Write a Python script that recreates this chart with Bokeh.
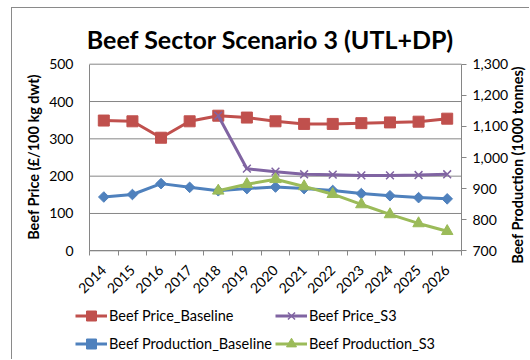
from math import pi

from bokeh.embed import file_html
from bokeh.resources import INLINE
from bokeh.plotting import figure
from bokeh.models import (Range1d, LinearAxis, FixedTicker, NumeralTickFormatter,
                          Label, Legend, LegendItem)

# ---- data -------------------------------------------------------------
years = ["2014", "2015", "2016", "2017", "2018", "2019", "2020",
         "2021", "2022", "2023", "2024", "2025", "2026"]
s3_years = ["2018", "2019", "2020", "2021", "2022", "2023", "2024", "2025", "2026"]

price_baseline = [349, 347, 303, 347, 362, 357, 347, 340, 340, 342, 344, 346, 354]
price_s3 = [362, 220, 212, 205, 204, 202, 202, 203, 205]

production_baseline = [873, 881, 916, 904, 893, 900, 905, 900, 894, 884, 877, 871, 867]
production_s3 = [893, 914, 930, 907, 882, 849, 817, 788, 763]

price_ticks = [0, 100, 200, 300, 400, 500]
production_ticks = [700, 800, 900, 1000, 1100, 1200, 1300]

# ---- styling ----------------------------------------------------------
FONT = "Lato"
GRID = "#868686"
TEXT = "#000000"
RED, PURPLE, BLUE, GREEN = "#C0504D", "#8064A2", "#4F81BD", "#9BBB59"

# canvas size and where the plotting area sits inside it (pixels)
W, H = 518, 352
AREA_L, AREA_R, AREA_T, AREA_B = 77.0, 449.0, 55.7, 242.3

n = len(years)
x_all = list(range(n))
x_s3 = [years.index(y) for y in s3_years]
cat_bounds = [i - 0.5 for i in range(n + 1)]

# the frame fills the whole canvas; ranges are widened so that the
# category band and the value axes land on the plotting area above
px_x = (AREA_R - AREA_L) / n
x0 = -0.5 - AREA_L / px_x
x1 = n - 0.5 + (W - AREA_R) / px_x

def widened(lo, hi):
    k = (AREA_B - AREA_T) / (hi - lo)
    return lo - (H - AREA_B) / k, hi + AREA_T / k

p = figure(width=W, height=H,
           x_range=Range1d(x0, x1),
           y_range=Range1d(*widened(price_ticks[0], price_ticks[-1])),
           output_backend="svg", toolbar_location=None,
           min_border=0, min_border_left=0, min_border_right=0,
           min_border_top=0, min_border_bottom=0)
p.styles = {"margin-left": "11px", "margin-top": "7px",
            "border-left": "1px solid #8a8a8a", "border-top": "1px solid #8a8a8a"}
p.outline_line_color = None
p.background_fill_color = "white"
p.border_fill_color = "white"
p.xgrid.visible = False
p.ygrid.visible = False

p.extra_y_ranges = {"prod": Range1d(*widened(production_ticks[0], production_ticks[-1]))}

# horizontal gridlines across the category band
p.segment(x0=[-0.5] * len(price_ticks), x1=[n - 0.5] * len(price_ticks),
          y0=price_ticks, y1=price_ticks, line_color=GRID, line_width=1)

# bottom (category) axis: labels at centres, tick marks at boundaries
xa = p.xaxis[0]
xa.fixed_location = price_ticks[0]
xa.bounds = (-0.5, n - 0.5)
xa.ticker = FixedTicker(ticks=x_all, minor_ticks=cat_bounds)
xa.major_label_overrides = {i: y for i, y in enumerate(years)}
xa.major_tick_out = 0
xa.major_tick_in = 0
xa.minor_tick_out = 5
xa.minor_tick_in = 0
xa.minor_tick_line_color = GRID
xa.axis_line_color = GRID
xa.major_label_orientation = pi / 4
xa.major_label_standoff = 12
xa.major_label_text_font = FONT
xa.major_label_text_font_size = "14px"
xa.major_label_text_color = TEXT

# left (price) axis
ya = p.yaxis[0]
ya.fixed_location = -0.5
ya.bounds = (price_ticks[0], price_ticks[-1])
ya.ticker = FixedTicker(ticks=price_ticks)
ya.major_tick_out = 0
ya.major_tick_in = 0
ya.minor_tick_line_color = None
ya.axis_line_color = GRID
ya.major_label_standoff = 16
ya.major_label_text_font = FONT
ya.major_label_text_font_size = "14px"
ya.major_label_text_color = TEXT

# right (production) axis
ra = LinearAxis(y_range_name="prod", ticker=FixedTicker(ticks=production_ticks),
                formatter=NumeralTickFormatter(format="0,0"))
ra.fixed_location = n - 0.5
ra.bounds = (production_ticks[0], production_ticks[-1])
ra.major_tick_out = 5
ra.major_tick_in = 0
ra.major_tick_line_color = GRID
ra.minor_tick_line_color = None
ra.axis_line_color = GRID
ra.major_label_standoff = 6
ra.major_label_text_font = FONT
ra.major_label_text_font_size = "14px"
ra.major_label_text_color = TEXT
p.add_layout(ra, "right")

# ---- series -----------------------------------------------------------
l_pb = p.line(x_all, price_baseline, line_color=RED, line_width=3)
m_pb = p.scatter(x_all, price_baseline, marker="square", size=11,
                 fill_color=RED, line_color=RED)

l_ps = p.line(x_s3, price_s3, line_color=PURPLE, line_width=3)
m_ps = p.scatter(x_s3, price_s3, marker="x", size=11,
                 line_color=PURPLE, line_width=1.5)

l_qb = p.line(x_all, production_baseline, line_color=BLUE, line_width=3,
              y_range_name="prod")
m_qb = p.scatter(x_all, production_baseline, marker="square", angle=pi / 4, size=7.5,
                 fill_color=BLUE, line_color=BLUE, y_range_name="prod")

l_qs = p.line(x_s3, production_s3, line_color=GREEN, line_width=3,
              y_range_name="prod")
m_qs = p.scatter(x_s3, production_s3, marker="triangle", size=11.5,
                 fill_color=GREEN, line_color=GREEN, y_range_name="prod")

# ---- legend (two columns under the axis) ------------------------------
legend = Legend(items=[
    LegendItem(label="Beef Price_Baseline", renderers=[l_pb, m_pb]),
    LegendItem(label="Beef Production_Baseline", renderers=[l_qb, m_qb]),
    LegendItem(label="Beef Price_S3", renderers=[l_ps, m_ps]),
    LegendItem(label="Beef Production_S3", renderers=[l_qs, m_qs]),
], ncols=2, location=(63, 4))
legend.border_line_color = None
legend.background_fill_alpha = 0
legend.padding = 0
legend.margin = 0
legend.spacing = 3
legend.glyph_width = 32
legend.glyph_height = 25
legend.label_height = 25
legend.label_standoff = 2
legend.label_text_font = FONT
legend.label_text_font_size = "14.5px"
legend.label_text_color = TEXT
p.add_layout(legend, "center")

# ---- titles -----------------------------------------------------------
p.add_layout(Label(x=258, y=322, x_units="screen", y_units="screen",
                   text="Beef Sector Scenario 3 (UTL+DP)", text_align="center",
                   text_baseline="alphabetic", text_font=FONT,
                   text_font_style="bold", text_font_size="25px",
                   text_color=TEXT))
p.add_layout(Label(x=21, y=203.5, x_units="screen", y_units="screen",
                   text="Beef Price (£/100 kg dwt)", angle=pi / 2,
                   text_align="center", text_baseline="alphabetic",
                   text_font=FONT, text_font_style="bold",
                   text_font_size="14.5px", text_color=TEXT))
p.add_layout(Label(x=505, y=195.5, x_units="screen", y_units="screen",
                   text="Beef Production (1000 tonnes)", angle=pi / 2,
                   text_align="center", text_baseline="alphabetic",
                   text_font=FONT, text_font_style="bold",
                   text_font_size="14.5px", text_color=TEXT))

open("out.html", "w").write(file_html(p, INLINE))
